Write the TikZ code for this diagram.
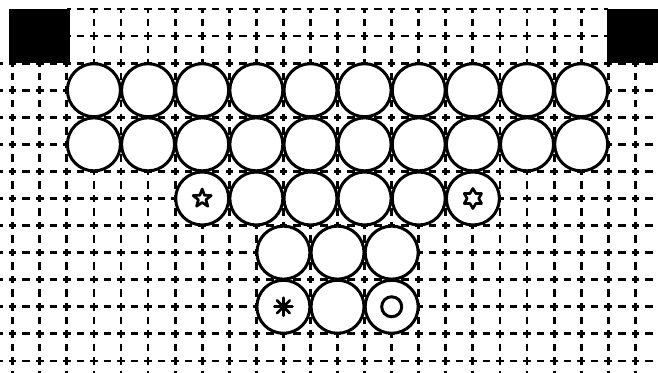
\documentclass[tikz,border=0pt]{standalone}
\usetikzlibrary{calc}
\begin{document}
\begin{tikzpicture}[x=1pt,y=-1pt,
  gridline/.style={line width=2.8pt, dash pattern=on 7.5pt off 6.035pt, dash phase=3.75pt},
  ball/.style={circle, draw, fill=white, line width=3pt, minimum size=53pt, inner sep=0pt},
  sym/.style={line width=2.7pt, line join=round, line cap=round}]
\useasboundingbox (0,0) rectangle (658,372);
\clip (0,0) rectangle (658,372);
\begin{scope}[shift={(12.7pt,-9pt)}, x=27.07pt, y=-27.07pt]
  % grid
  \foreach \r in {2,...,13} \draw[gridline] (-1,\r) -- (25,\r);
  \foreach \r in {0,1} \draw[gridline] (2,\r) -- (22,\r);
  \foreach \c in {2,...,22} \draw[gridline] (\c,0) -- (\c,15);
  \foreach \c in {0,1,23} \draw[gridline] (\c,2) -- (\c,15);
  % rows of balls
  \foreach \i in {1,...,10} {
    \node[ball] (a\i) at ({1+2*\i},3) {};
    \node[ball] (b\i) at ({1+2*\i},5) {};
  }
  \foreach \i in {1,...,6} \node[ball] (c\i) at ({5+2*\i},7) {};
  \foreach \i in {1,...,3} \node[ball] (d\i) at ({8+2*\i},9) {};
  \foreach \i in {1,...,3} \node[ball] (e\i) at ({8+2*\i},11) {};
\end{scope}
% star
\begin{scope}[shift={(c1.center)}, x=1pt, y=1pt]
  \draw[sym] (90:9.5) \foreach \i in {1,...,9} { -- ({90+36*\i}:{ifthenelse(mod(\i,2)==1,4,9.5)}) } -- cycle;
\end{scope}
% hexagram
\begin{scope}[shift={(c6.center)}, x=1pt, y=1pt]
  \draw[sym] (90:10) \foreach \i in {1,...,11} { -- ({90+30*\i}:{ifthenelse(mod(\i,2)==1,5.8,10)}) } -- cycle;
\end{scope}
% asterisk
\begin{scope}[shift={(e1.center)}, x=1pt, y=1pt]
  \foreach \a in {0,45,90,135} \draw[sym] (\a:9) -- ({\a+180}:9);
\end{scope}
% small circle
\draw[line width=3pt] (e3.center) circle (10);
% black corner blocks
\fill (9,9) rectangle (70,63);
\fill (607,9) rectangle (660,63);
\end{tikzpicture}
\end{document}
